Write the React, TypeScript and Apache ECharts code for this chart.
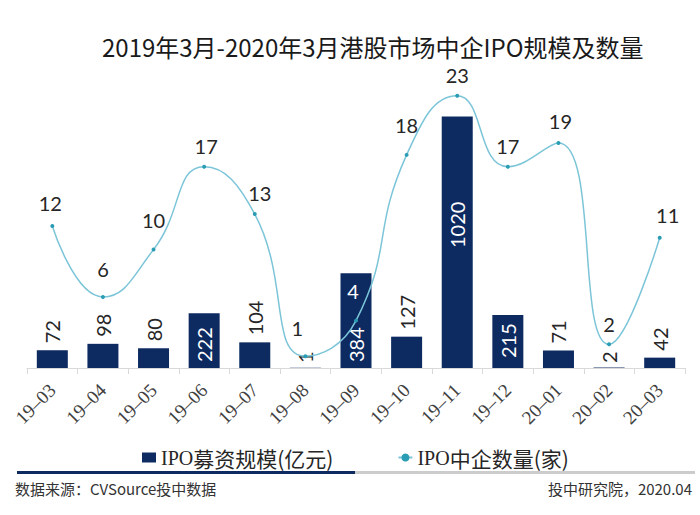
import React, { useEffect, useRef } from "react";
import * as echarts from "echarts";

const categories = ["19–03", "19–04", "19–05", "19–06", "19–07", "19–08", "19–09", "19–10", "19–11", "19–12", "20–01", "20–02", "20–03"];
const fundraising = [72, 98, 80, 222, 104, 1, 384, 127, 1020, 215, 71, 2, 42];
const ipoCounts = [12, 6, 10, 17, 13, 1, 4, 18, 23, 17, 19, 2, 11];
const seriesNames = ["IPO募资规模(亿元)", "IPO中企数量(家)"];
const titleText = "2019年3月-2020年3月港股市场中企IPO规模及数量";
const sourceText = "数据来源：CVSource投中数据";
const creditText = "投中研究院，2020.04";

const NAVY = "#0d2a61";
const LINE = "#7cc5d8";
const DOT = "#2a9db4";
const TEXT = "#262626";
const NUM_FONT = "Lato";
const CJK_FONT = "Noto Sans CJK SC";
const SERIF = "Liberation Serif";

// label layout tweaks (style only)
const lineLabelDistance = [11, 16, 18, 9, 9, 16, 18, 18, 9, 9, 10, 8, 11];
const lineLabelDx = [-2, 0, 0, 2, 5, -8, -3, 0, 0, 0, 2, 0, 8];

function barLabel(v: number) {
  const base = {
    show: true,
    rotate: 90,
    align: "left",
    verticalAlign: "middle",
    fontFamily: NUM_FONT,
    fontSize: 20,
  };
  if (v >= 1000) return { ...base, position: "insideBottom", distance: 120, color: "#fff" };
  if (v >= 200) return { ...base, position: "insideBottom", distance: v === 215 ? 10 : 6, color: "#fff" };
  if (v < 10) return { ...base, position: "insideBottom", distance: 5, color: TEXT };
  return { ...base, position: "top", distance: 7, color: TEXT };
}

export default function App() {
  const ref = useRef<HTMLDivElement>(null);
  useEffect(() => {
    if (!ref.current) return;
    const chart = echarts.init(ref.current, null, { renderer: "svg" });
    chart.setOption({
      animation: false,
      backgroundColor: "#ffffff",
      title: {
        text: titleText,
        left: 97,
        top: 29,
        textStyle: { fontFamily: CJK_FONT, fontSize: 24, fontWeight: "normal", color: "#1a1a1a" },
      },
      grid: { left: 27, right: 15, top: 72, bottom: 147, containLabel: false },
      legend: {
        data: [
          { name: seriesNames[0], icon: "rect" },
          { name: seriesNames[1] },
        ],
        left: 137,
        top: 442,
        itemWidth: 14,
        itemHeight: 10,
        itemGap: 64,
        formatter: (name: string) => `{s|${name.slice(0, 3)}}{c|${name.slice(3)}}`,
        textStyle: {
          rich: {
            s: { fontFamily: SERIF, fontSize: 20, color: TEXT },
            c: { fontFamily: CJK_FONT, fontSize: 21, color: TEXT },
          },
        },
      },
      xAxis: {
        type: "category",
        data: categories,
        boundaryGap: true,
        axisLine: { lineStyle: { color: "#d9d9d9", width: 1 } },
        axisTick: { show: true, length: 6, lineStyle: { color: "#d9d9d9" } },
        axisLabel: {
          rotate: 45,
          interval: 0,
          margin: 19,
          fontFamily: SERIF,
          fontSize: 19,
          color: "#404040",
        },
      },
      yAxis: [
        { type: "value", min: 0, max: 1200, show: false, splitLine: { show: false } },
        { type: "value", min: 0, max: 25, show: false, splitLine: { show: false } },
      ],
      series: [
        {
          name: seriesNames[0],
          type: "bar",
          yAxisIndex: 0,
          barWidth: 31,
          itemStyle: { color: NAVY },
          data: fundraising.map((v) => ({ value: v, label: barLabel(v) })),
        },
        {
          name: seriesNames[1],
          type: "line",
          yAxisIndex: 1,
          smooth: true,
          symbol: "circle",
          symbolSize: 4,
          lineStyle: { color: LINE, width: 1.5 },
          itemStyle: { color: DOT },
          label: {
            show: true,
            position: "top",
            fontFamily: NUM_FONT,
            fontSize: 20,
            color: TEXT,
          },
          data: ipoCounts.map((v, i) => ({
            value: v,
            label: {
              distance: lineLabelDistance[i],
              offset: [lineLabelDx[i], 0],
              color: i === 6 ? "#ffffff" : TEXT,
            },
          })),
          z: 3,
        },
      ],
      graphic: [
        { type: "rect", shape: { x: 17, y: 471, width: 338, height: 3 }, style: { fill: NAVY } },
        { type: "rect", shape: { x: 355, y: 471, width: 340, height: 3 }, style: { fill: "#cccccc" } },
        {
          type: "text",
          x: 15,
          y: 488,
          style: { text: sourceText, fontFamily: CJK_FONT, fontSize: 15, fill: "#333", verticalAlign: "middle", align: "left" },
        },
        {
          type: "text",
          x: 692,
          y: 488,
          style: { text: creditText, fontFamily: CJK_FONT, fontSize: 15, fill: "#333", verticalAlign: "middle", align: "right" },
        },
      ],
    });
    return () => chart.dispose();
  }, []);
  return (
    <div
      ref={ref}
      style={{ position: "fixed", left: 0, top: 0, width: 700, height: 515, background: "#fff" }}
    />
  );
}
